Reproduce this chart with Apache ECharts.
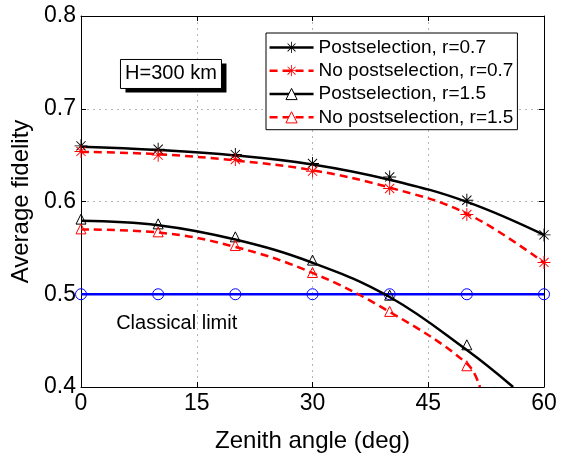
<!DOCTYPE html>
<html><head><meta charset="utf-8">
<script src="https://cdn.jsdelivr.net/npm/echarts@6/dist/echarts.min.js"></script>
<style>html,body{margin:0;padding:0;background:#fff}#c{width:567px;height:461px}</style>
</head><body><div id="c"></div>
<script>
// ---- data ----
const xValues = [0, 10, 20, 30, 40, 50, 60];
const xTicks = [0, 15, 30, 45, 60];
const yTicks = [0.4, 0.5, 0.6, 0.7, 0.8];
// analytic curves
const postR07Line   = [0.659, 0.6555, 0.6497, 0.6400, 0.6235, 0.5996, 0.5640];
const noPostR07Line = [0.6535, 0.6510, 0.6442, 0.6337, 0.6150, 0.5870, 0.5340];
const postR15Line   = [0.5792, 0.5745, 0.5590, 0.5340, 0.4970, 0.4398];
const noPostR15Line = [0.5698, 0.5666, 0.5510, 0.5230, 0.4810, 0.4254];
// where the r=1.5 curves leave the axes (x, y)
const postR15Exit   = [56.0, 0.4];
const noPostR15Exit = [51.7, 0.4];
// simulated points (markers)
const postR07Pts   = [0.660, 0.6564, 0.6506, 0.6410, 0.6265, 0.6014, 0.5640];
const noPostR07Pts = [0.654, 0.6500, 0.6452, 0.6327, 0.6140, 0.5860, 0.5343];
const postR15Pts   = [0.581, 0.5759, 0.5619, 0.5368, 0.4990, 0.4455];
const noPostR15Pts = [0.5705, 0.5673, 0.5526, 0.5235, 0.4815, 0.4229];
const classicalLimit = [0.5, 0.5, 0.5, 0.5, 0.5, 0.5, 0.5];
const seriesNames = ['Postselection, r=0.7', 'No postselection, r=0.7', 'Postselection, r=1.5', 'No postselection, r=1.5'];
const annotations = { box: { text: 'H=300 km', x: 11.66, y: 0.7375 }, limit: { text: 'Classical limit', x: 12.4, y: 0.468 } };

// ---- helpers ----
function pairs(vals, extra) {
  const d = vals.map((v, i) => [xValues[i], v]);
  if (extra) d.push(extra);
  return d;
}
function asteriskPath() {
  const L = 10, w = 0.72, parts = [];
  [0, 90, 45, 135].forEach(deg => {
    const t = deg * Math.PI / 180, c = Math.cos(t), s = Math.sin(t);
    const pts = [[-w, -L], [w, -L], [w, L], [-w, L]].map(([x, y]) => [10 + x * c - y * s, 10 + x * s + y * c]);
    parts.push('M' + pts.map(p => p[0].toFixed(3) + ' ' + p[1].toFixed(3)).join(' L') + ' Z');
  });
  return 'path://' + parts.join(' ');
}
const AST = asteriskPath();
const FONT = 'Liberation Sans';
const clear = 'rgba(0,0,0,0)';

const chart = echarts.init(document.getElementById('c'), null, { renderer: 'canvas' });

const axisCommon = {
  type: 'value',
  axisLine: { show: true, onZero: false, lineStyle: { color: '#000', width: 1 } },
  axisTick: { show: true, inside: true, length: 5, lineStyle: { color: '#000', width: 1 } },
};

function lineSeries(name, data, color, dashed, symbol, fill, bw) {
  return {
    type: 'line', name, data, smooth: 0.4, showSymbol: false, symbol, symbolSize: 11,
    clip: true, z: 3,
    lineStyle: { color, width: 2.5, type: dashed ? [8, 5] : 'solid' },
    itemStyle: { color: fill, borderColor: color, borderWidth: bw },
    emphasis: { disabled: true }
  };
}
function markerSeries(data, symbol, size, fill, stroke, bw) {
  return {
    type: 'scatter', data, symbol, symbolSize: size, z: 4,
    itemStyle: { color: fill, borderColor: stroke, borderWidth: bw, opacity: 1 },
    emphasis: { disabled: true }, silent: true
  };
}

const option = {
  animation: false,
  backgroundColor: '#fff',
  textStyle: { fontFamily: FONT },
  grid: { left: 81, right: 23, top: 16, bottom: 74 },
  legend: {
    orient: 'vertical', left: 266, top: 33,
    padding: [4.4, 4, 2.4, 2.3],
    itemWidth: 44, itemHeight: 14, itemGap: 3.3,
    backgroundColor: '#fff', borderColor: '#000', borderWidth: 1, borderRadius: 0,
    textStyle: { fontFamily: FONT, fontSize: 19, color: '#000', lineHeight: 20 },
    selectedMode: false,
    data: [
      { name: seriesNames[0], itemStyle: { color: '#000', borderWidth: 0 }, lineStyle: { color: '#000', width: 2.5, type: 'solid' } },
      { name: seriesNames[1], itemStyle: { color: '#f00', borderWidth: 0 }, lineStyle: { color: '#f00', width: 2.5, type: [8, 5] } },
      { name: seriesNames[2], itemStyle: { color: '#fff', borderColor: '#000', borderWidth: 1 }, lineStyle: { color: '#000', width: 2.5, type: 'solid' } },
      { name: seriesNames[3], itemStyle: { color: '#fff', borderColor: '#f00', borderWidth: 1 }, lineStyle: { color: '#f00', width: 2.5, type: [8, 5] } }
    ]
  },
  xAxis: [
    Object.assign({}, axisCommon, {
      position: 'bottom', min: xTicks[0], max: xTicks[xTicks.length - 1], interval: 15,
      name: 'Zenith angle (deg)', nameLocation: 'middle', nameGap: 42,
      nameTextStyle: { fontFamily: FONT, fontSize: 24, color: '#000' },
      axisLabel: { show: true, margin: 5, fontFamily: FONT, fontSize: 23, color: '#000' },
      splitLine: { show: true, lineStyle: { color: '#b4b4b4', width: 1, type: [2, 4] } }
    }),
    Object.assign({}, axisCommon, {
      position: 'top', min: xTicks[0], max: xTicks[xTicks.length - 1], interval: 15,
      axisLabel: { show: false }, splitLine: { show: false }
    })
  ],
  yAxis: [
    Object.assign({}, axisCommon, {
      position: 'left', min: yTicks[0], max: yTicks[yTicks.length - 1], interval: 0.1,
      name: 'Average fidelity', nameLocation: 'middle', nameGap: 43,
      nameTextStyle: { fontFamily: FONT, fontSize: 24, color: '#000' },
      axisLabel: { show: true, margin: 5, fontFamily: FONT, fontSize: 23, color: '#000', formatter: v => v.toFixed(1) },
      splitLine: { show: true, lineStyle: { color: '#b4b4b4', width: 1, type: [2, 4] } }
    }),
    Object.assign({}, axisCommon, {
      position: 'right', min: yTicks[0], max: yTicks[yTicks.length - 1], interval: 0.1,
      axisLabel: { show: false }, splitLine: { show: false }
    })
  ],
  series: [
    // classical limit
    {
      type: 'line', name: 'Classical limit', data: pairs(classicalLimit), z: 2,
      symbol: 'circle', symbolSize: 11, showSymbol: true, showAllSymbol: true,
      lineStyle: { color: '#00f', width: 2.5 },
      itemStyle: { color: clear, borderColor: '#00f', borderWidth: 1 },
      emphasis: { disabled: true }
    },
    lineSeries(seriesNames[0], pairs(postR07Line), '#000', false, AST, '#000', 0),
    markerSeries(pairs(postR07Pts), AST, 13, '#000', '#000', 0),
    lineSeries(seriesNames[1], pairs(noPostR07Line), '#f00', true, AST, '#f00', 0),
    markerSeries(pairs(noPostR07Pts), AST, 13, '#f00', '#f00', 0),
    lineSeries(seriesNames[2], pairs(postR15Line, postR15Exit), '#000', false, 'triangle', '#fff', 1),
    markerSeries(pairs(postR15Pts), 'triangle', 10, clear, '#000', 1),
    lineSeries(seriesNames[3], pairs(noPostR15Line, noPostR15Exit), '#f00', true, 'triangle', '#fff', 1),
    markerSeries(pairs(noPostR15Pts), 'triangle', 10, clear, '#f00', 1)
  ]
};
chart.setOption(option);

// annotations placed in data coordinates
const pBox = chart.convertToPixel({ gridIndex: 0 }, [annotations.box.x, annotations.box.y]);
const pLim = chart.convertToPixel({ gridIndex: 0 }, [annotations.limit.x, annotations.limit.y]);
const bw = 101, bh = 29;
chart.setOption({
  graphic: [
    { type: 'rect', z: 10, shape: { x: pBox[0] - bw / 2 + 5, y: pBox[1] - bh / 2 + 4, width: bw, height: bh }, style: { fill: '#000' } },
    { type: 'rect', z: 11, shape: { x: pBox[0] - bw / 2, y: pBox[1] - bh / 2, width: bw, height: bh }, style: { fill: '#fff', stroke: '#000', lineWidth: 1 } },
    { type: 'text', z: 12, x: pBox[0], y: pBox[1], style: { text: annotations.box.text, font: '20px "' + FONT + '"', fill: '#000', align: 'center', verticalAlign: 'middle' } },
    { type: 'text', z: 12, x: pLim[0], y: pLim[1], style: { text: annotations.limit.text, font: '20px "' + FONT + '"', fill: '#000', align: 'center', verticalAlign: 'middle' } }
  ]
});
</script>
</body></html>
